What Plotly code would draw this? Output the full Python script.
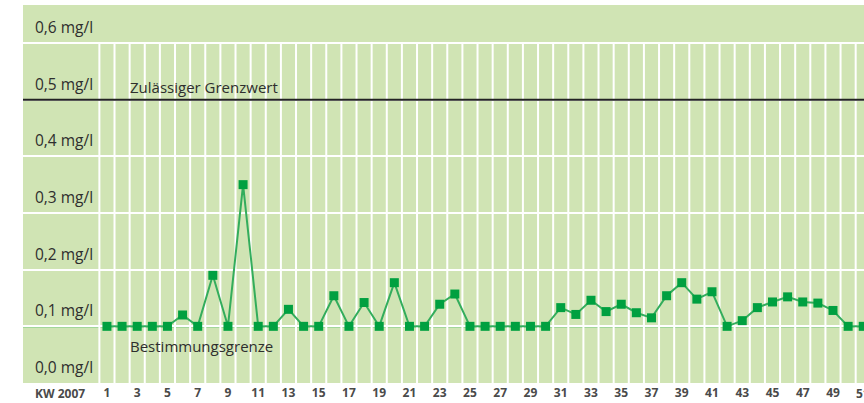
import plotly.graph_objects as go

weeks = list(range(1, 52))
values = [0.10, 0.10, 0.10, 0.10, 0.10, 0.12, 0.10, 0.19, 0.10, 0.35,
          0.10, 0.10, 0.13, 0.10, 0.10, 0.154, 0.10, 0.142, 0.10, 0.177,
          0.10, 0.10, 0.139, 0.157, 0.10, 0.10, 0.10, 0.10, 0.10, 0.10,
          0.133, 0.121, 0.146, 0.126, 0.139, 0.124, 0.115, 0.154, 0.177, 0.148,
          0.161, 0.10, 0.11, 0.133, 0.143, 0.152, 0.143, 0.141, 0.128, 0.10,
          0.10]
y_levels = [0.0, 0.1, 0.2, 0.3, 0.4, 0.5, 0.6]
y_labels = ["0,0 mg/l", "0,1 mg/l", "0,2 mg/l", "0,3 mg/l", "0,4 mg/l", "0,5 mg/l", "0,6 mg/l"]
x_tickvals = list(range(1, 52, 2))
x_ticktext = [str(v) for v in x_tickvals]
grenzwert = 0.5
bestimmungsgrenze = 0.1

FONT = "Open Sans"
BG = "#d0e4b4"
TICKFONT = dict(family=FONT, size=12, color="#4a4a4a")

fig = go.Figure()
fig.add_trace(go.Scatter(
    x=weeks, y=values, mode="lines+markers",
    line=dict(color="#33ad5c", width=2),
    marker=dict(symbol="square", size=9, color="#00a040"),
    cliponaxis=True, hoverinfo="x+y"))

shapes = []
for k in range(0, 53):
    shapes.append(dict(type="line", xref="x", yref="y", x0=k + 0.5, x1=k + 0.5,
                       y0=0, y1=0.6, line=dict(color="white", width=2), layer="below"))
shapes.append(dict(type="line", xref="paper", yref="y", x0=0, x1=1,
                   y0=grenzwert, y1=grenzwert, line=dict(color="#222222", width=2)))
shapes.append(dict(type="line", xref="paper", yref="y", x0=0, x1=1,
                   y0=bestimmungsgrenze, y1=bestimmungsgrenze,
                   line=dict(color="#1aaa4a", width=2), layer="below"))

annotations = []
for v, t in zip(y_levels, y_labels):
    annotations.append(dict(xref="paper", yref="y", x=0.0119, y=v + 0.028, text=t,
                            showarrow=False, xanchor="left", yanchor="middle",
                            font=dict(family=FONT, size=15.5, color="#2e2e2e")))
annotations.append(dict(xref="x", yref="y", x=2.4, y=grenzwert + 0.023,
                        text="Zulässiger Grenzwert", showarrow=False,
                        xanchor="left", yanchor="middle",
                        font=dict(family=FONT, size=15, color="#2e2e2e")))
annotations.append(dict(xref="x", yref="y", x=2.4, y=bestimmungsgrenze - 0.034,
                        text="Bestimmungsgrenze", showarrow=False,
                        xanchor="left", yanchor="middle",
                        font=dict(family=FONT, size=15, color="#2e2e2e")))
annotations.append(dict(xref="paper", yref="paper", x=0.0119, y=-0.027,
                        text="<b>KW 2007</b>", showarrow=False,
                        xanchor="left", yanchor="middle",
                        font=dict(family=FONT, size=12, color="#4a4a4a")))
# last tick label, cut by the page edge as in the reference
annotations.append(dict(xref="x", yref="paper", x=x_tickvals[-1], y=-0.027,
                        text="<b>%s</b>" % x_ticktext[-1], showarrow=False,
                        xanchor="center", yanchor="middle", font=TICKFONT))

fig.update_layout(
    width=864, height=403,
    margin=dict(l=23, r=0, t=5, b=20),
    paper_bgcolor="white", plot_bgcolor=BG,
    showlegend=False,
    shapes=shapes, annotations=annotations,
    xaxis=dict(range=[-4.55, 51.05], tickvals=x_tickvals[:-1],
               ticktext=["<b>%s</b>" % t for t in x_ticktext[:-1]],
               showgrid=False, zeroline=False, showline=False, ticks="",
               ticklabelstandoff=1, tickfont=TICKFONT),
    yaxis=dict(range=[0, 0.667], tickvals=y_levels, showticklabels=False,
               showgrid=True, gridcolor="white", gridwidth=2,
               zeroline=False, showline=False, ticks=""),
)

fig.write_html("out.html", config={"displayModeBar": False},
               post_script="document.body.style.margin='0';")
